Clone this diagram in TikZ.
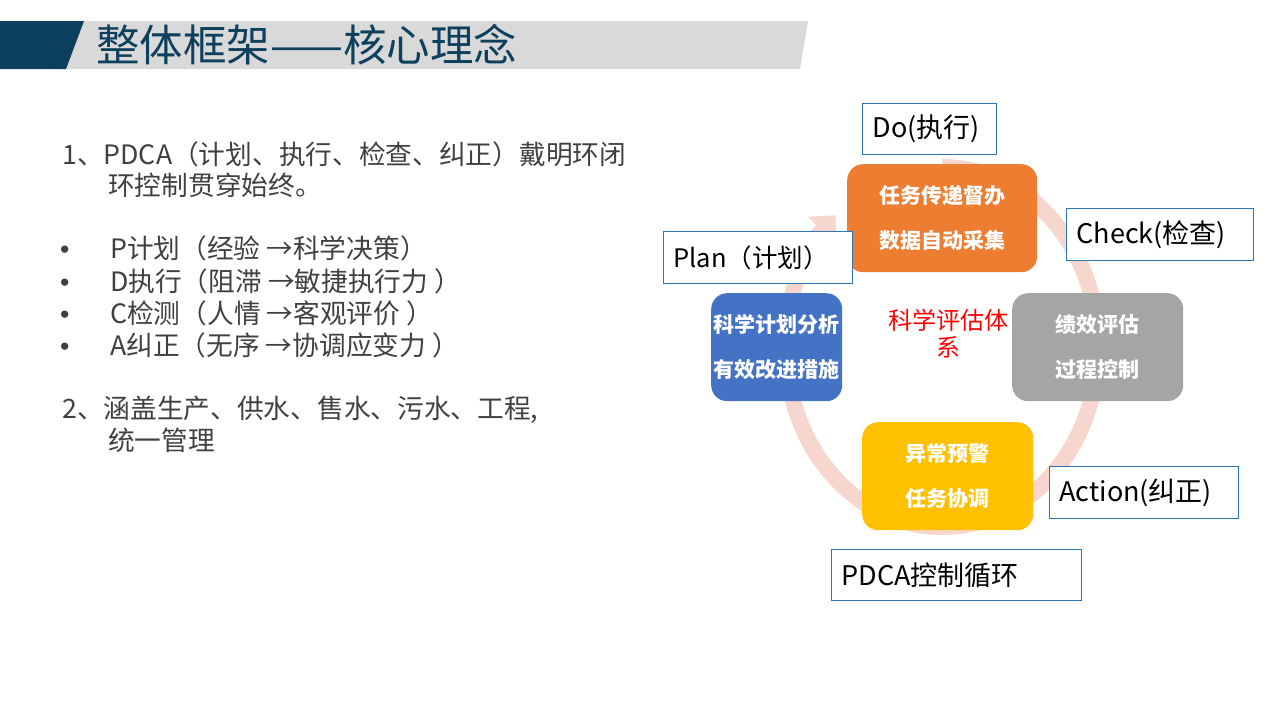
\documentclass[tikz,border=0pt]{standalone}
\usepackage{fontspec}
\setmainfont{Noto Sans CJK SC}
\newfontfamily\bulletfont{Liberation Sans}
\usetikzlibrary{arrows.meta}
\definecolor{navy}{HTML}{0D405C}
\definecolor{bargray}{HTML}{D9D9D9}
\definecolor{txtgray}{HTML}{404040}
\definecolor{ringc}{HTML}{F7D6CD}
\definecolor{orangec}{HTML}{ED7D31}
\definecolor{bluec}{HTML}{4472C4}
\definecolor{grayc}{HTML}{A5A5A5}
\definecolor{yellowc}{HTML}{FFC000}
\definecolor{lblue}{HTML}{2E75B6}
\begin{document}
\begin{tikzpicture}[x=1pt,y=-1pt,
  lt/.style={anchor=west, inner sep=0pt, text=txtgray, font=\fontsize{26.7}{32}\selectfont, text height=22pt, text depth=5pt},
  cbox/.style={rounded corners=16pt, anchor=north west, text=white, align=center, font=\fontsize{21}{45}\selectfont\bfseries, inner sep=0pt},
  lbl/.style={draw=lblue, line width=1pt, fill=white, anchor=north west, inner xsep=10pt, inner ysep=0pt, align=left, font=\fontsize{27}{32}\selectfont, text=black},
  ring/.style={draw=ringc, line width=16pt, -{Triangle[length=20pt,width=38pt]}}
]
\useasboundingbox (0,0) rectangle (1280,720);
% title bar
\fill[bargray] (63,21) -- (808,21) -- (800,69) -- (55,69) -- cycle;
\fill[navy] (0,21) -- (84,21) -- (66,69) -- (0,69) -- cycle;
\node[anchor=west, inner sep=0pt, text=navy, font=\fontsize{43.5}{50}\selectfont] (title) at (96,45) {整体框架——核心理念};
% left text
\node[lt] (l1) at (62,156) {1、PDCA（计划、执行、检查、纠正）戴明环闭};
\node[lt] (l2) at (108,187) {环控制贯穿始终。};
\node[lt] (b1) at (60,250) {\bulletfont •};
\node[lt] (t1) at (110,250) {P计划（经验 →科学决策）};
\node[lt] (b2) at (60,283) {\bulletfont •};
\node[lt] (t2) at (110,283) {D执行（阻滞 →敏捷执行力 ）};
\node[lt] (b3) at (60,315) {\bulletfont •};
\node[lt] (t3) at (110,315) {C检测（人情 →客观评价 ）};
\node[lt] (b4) at (60,347) {\bulletfont •};
\node[lt] (t4) at (110,347) {A纠正（无序 →协调应变力 ）};
\node[lt] (l3) at (62,410) {2、涵盖生产、供水、售水、污水、工程,};
\node[lt] (l4) at (108,442) {统一管理};
% ring (elliptic circular arrow)
\coordinate (c) at (942,347);
\draw[ring] (c) ++(0pt,180pt) arc[start angle=90, end angle=-227, x radius=156pt, y radius=180pt];
% colored boxes
\node[cbox, fill=orangec, minimum width=190pt, minimum height=108pt] (do) at (847,164) {任务传递督办\\数据自动采集};
\node[cbox, fill=bluec, minimum width=131pt, minimum height=108pt] (plan) at (711,293) {科学计划分析\\有效改进措施};
\node[cbox, fill=grayc, minimum width=171pt, minimum height=108pt] (check) at (1012,293) {绩效评估\\过程控制};
\node[cbox, fill=yellowc, minimum width=171pt, minimum height=108pt] (act) at (862,422) {异常预警\\任务协调};
\node[text=red, align=center, inner sep=0pt, font=\fontsize{24}{27}\selectfont] (center) at (948,334) {科学评估体\\系};
% label boxes
\node[lbl, minimum width=134pt, minimum height=51pt, text width=114pt] (ldo) at (862,103) {Do(执行)};
\node[lbl, minimum width=187pt, minimum height=52pt, text width=167pt] (lcheck) at (1066,208) {Check(检查)};
\node[lbl, minimum width=189pt, minimum height=52pt, text width=169pt, font=\fontsize{25.5}{30}\selectfont] (lplan) at (663,231) {Plan（计划）};
\node[lbl, minimum width=189pt, minimum height=52pt, text width=169pt] (lact) at (1049,466) {Action(纠正)};
\node[lbl, minimum width=250pt, minimum height=51pt, text width=230pt] (lpdca) at (831,549) {PDCA控制循环};
\end{tikzpicture}
\end{document}
